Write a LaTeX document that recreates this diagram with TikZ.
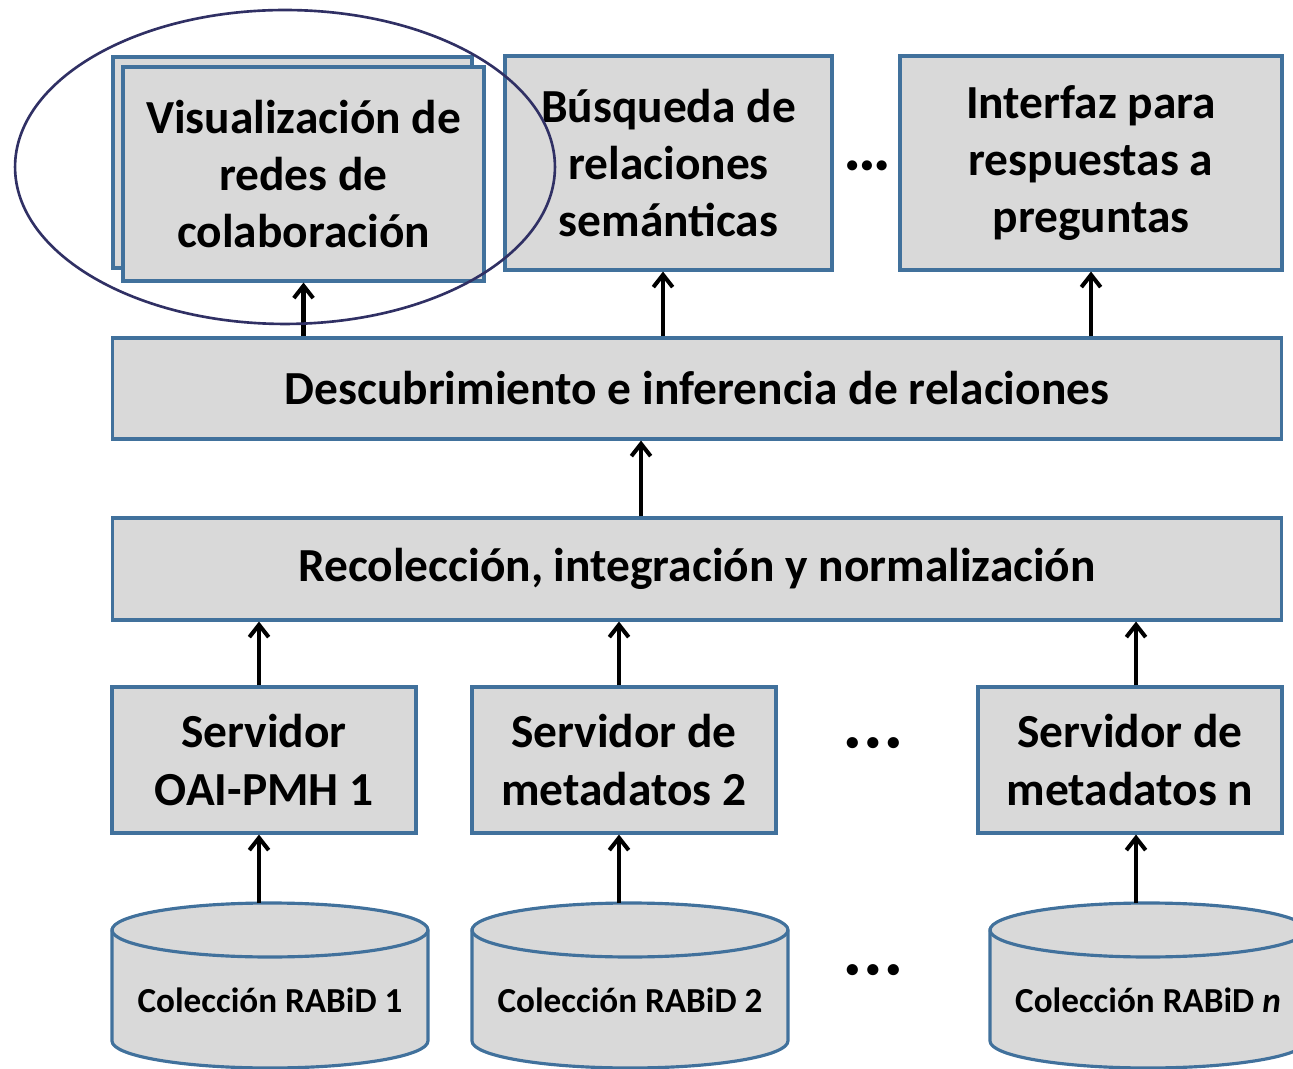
\documentclass[tikz,border=0pt]{standalone}
\usepackage{fontspec}
\setmainfont{Carlito}
\usetikzlibrary{arrows.meta, positioning, calc}
\definecolor{boxblue}{RGB}{65,113,156}
\definecolor{boxgray}{RGB}{217,217,217}
\definecolor{ringnavy}{RGB}{48,48,100}

\tikzset{
  layer/.style={draw=boxblue, fill=boxgray, line width=1.8pt, align=center, inner sep=0pt, font=\bfseries\fontsize{27}{32.5}\selectfont},
  dbshape/.style={draw=boxblue, fill=boxgray, line width=1.8pt},
  dbtext/.style={inner sep=0pt, font=\bfseries\fontsize{20}{24}\selectfont},
  flow/.style={line width=2.3pt, -{Straight Barb[length=7pt, width=11pt, line width=2.3pt]}},
  dots/.style={inner sep=0pt, font=\bfseries\fontsize{15}{18}\selectfont},
}

\begin{document}
\begin{tikzpicture}[x=0.02cm, y=0.02cm]
  \clip (0,0) rectangle (1293,1068);

  % Applications
  \node[layer, minimum width=7.18cm, minimum height=4.22cm] (visback) at (292.5,905.5) {};
  \node[layer, minimum width=7.22cm, minimum height=4.28cm] (vis) at (303.5,894) {Visualización de\\redes de\\colaboración};
  \node[layer, minimum width=6.54cm, minimum height=4.28cm] (busq) at (668.5,905) {Búsqueda de\\relaciones\\semánticas};
  \node[dots, font=\bfseries\fontsize{13.5}{16}\selectfont] (dotsapp) at (867,901) {•\kern1.7pt•\kern1.7pt•};
  \node[layer, minimum width=7.64cm, minimum height=4.28cm] (interfaz) at (1091,905) {Interfaz para\\respuestas a\\preguntas};

  % Processing layers
  \node[layer, minimum width=23.4cm, minimum height=2.02cm] (desc) at (697,679.5) {Descubrimiento e inferencia de relaciones};
  \node[layer, minimum width=23.4cm, minimum height=2.04cm] (rec) at (697,499) {Recolección, integración y normalización};

  % Metadata servers
  \node[layer, minimum width=6.08cm, minimum height=2.92cm] (srv1) at (264,308) {Servidor\\OAI-PMH 1};
  \node[layer, minimum width=6.08cm, minimum height=2.92cm] (srv2) at (624,308) {Servidor de\\metadatos 2};
  \node[dots] (dotssrv) at (873,324) {•\kern4.2pt•\kern4.2pt•};
  \node[layer, minimum width=6.08cm, minimum height=2.92cm] (srvn) at (1130,308) {Servidor de\\metadatos n};

  % Collections
  \draw[dbshape] (112,138) -- (112,27) arc[start angle=180, end angle=360, x radius=3.16cm, y radius=0.54cm] -- (428,138) arc[start angle=0, end angle=180, x radius=3.16cm, y radius=0.54cm] -- cycle;
  \draw[dbshape, fill=none] (112,138) arc[start angle=180, end angle=360, x radius=3.16cm, y radius=0.54cm];
  \node[dbtext] (db1) at (270,68) {Colección RABiD 1};
  \coordinate (db1top) at (259,165);

  \draw[dbshape] (472,138) -- (472,27) arc[start angle=180, end angle=360, x radius=3.16cm, y radius=0.54cm] -- (788,138) arc[start angle=0, end angle=180, x radius=3.16cm, y radius=0.54cm] -- cycle;
  \draw[dbshape, fill=none] (472,138) arc[start angle=180, end angle=360, x radius=3.16cm, y radius=0.54cm];
  \node[dbtext] (db2) at (630,68) {Colección RABiD 2};
  \coordinate (db2top) at (619,165);

  \node[dots] (dotsdb) at (873,97) {•\kern4.2pt•\kern4.2pt•};

  \draw[dbshape] (990,138) -- (990,27) arc[start angle=180, end angle=360, x radius=3.16cm, y radius=0.54cm] -- (1306,138) arc[start angle=0, end angle=180, x radius=3.16cm, y radius=0.54cm] -- cycle;
  \draw[dbshape, fill=none] (990,138) arc[start angle=180, end angle=360, x radius=3.16cm, y radius=0.54cm];
  \node[dbtext] (dbn) at (1148,68) {Colección RABiD \textit{n}};
  \coordinate (dbntop) at (1136,165);

  % Arrows
  \draw[flow] (db1top) -- (db1top |- srv1.south);
  \draw[flow] (db2top) -- (db2top |- srv2.south);
  \draw[flow] (dbntop) -- (dbntop |- srvn.south);
  \draw[flow] (db1top |- srv1.north) -- (db1top |- rec.south);
  \draw[flow] (db2top |- srv2.north) -- (db2top |- rec.south);
  \draw[flow] (dbntop |- srvn.north) -- (dbntop |- rec.south);
  \draw[flow] ([xshift=-1.12cm]rec.north) -- ([xshift=-1.12cm]desc.south);
  \draw[flow] (vis.south |- desc.north) -- (vis.south);
  \draw[flow] ([xshift=-0.11cm]busq.south |- desc.north) -- ([xshift=-0.11cm]busq.south);
  \draw[flow] (interfaz.south |- desc.north) -- (interfaz.south);

  % Highlight
  \draw[ringnavy, line width=1.5pt] (285,901) ellipse[x radius=5.4cm, y radius=3.14cm];
\end{tikzpicture}
\end{document}
